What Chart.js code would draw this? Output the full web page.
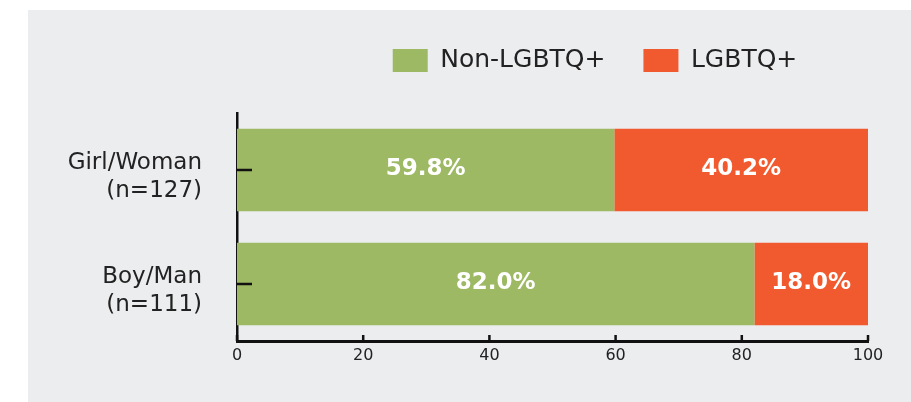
<!DOCTYPE html>
<html>
<head>
<meta charset="utf-8">
<script src="https://cdn.jsdelivr.net/npm/chart.js@4.4.1/dist/chart.umd.min.js"></script>
<style>
  html, body { margin: 0; padding: 0; background: #fff; }
  .panel { position: absolute; left: 28px; top: 10px; width: 883px; height: 392px; background: #ecedef; }
</style>
</head>
<body>
<div class="panel"><canvas id="chart" width="883" height="392"></canvas></div>
<script>
const categories = [['Girl/Woman', '(n=127)'], ['Boy/Man', '(n=111)']];
const seriesNames = ['Non-LGBTQ+', 'LGBTQ+'];
const nonLgbtq = [59.8, 82.0];
const lgbtq = [40.2, 18.0];
const xTicks = [0, 20, 40, 60, 80, 100];

document.addEventListener('DOMContentLoaded', function () {
    const green = '#9db964';
    const orange = '#f15a2e';
    const ink = '#222222';
    const family = '"DejaVu Sans", sans-serif';

    // legend sits a bit right of centre, with space under it
    const legendPlacement = {
        id: 'legendPlacement',
        beforeInit(chart) {
            const fit = chart.legend.fit;
            chart.legend.fit = function () {
                fit.call(this);
                this.height += 30;
            };
        },
        afterLayout(chart) {
            chart.legend.left += 147;
            chart.legend.right += 147;
        }
    };

    // inward tick marks + values inside the bars
    const marksAndValues = {
        id: 'marksAndValues',
        afterDatasetsDraw(chart) {
            const { ctx, chartArea, scales: { x, y } } = chart;
            ctx.save();
            ctx.strokeStyle = '#111';
            ctx.lineWidth = 2.5;
            ctx.beginPath();
            xTicks.forEach(v => {
                const px = x.getPixelForValue(v);
                ctx.moveTo(px, chartArea.bottom);
                ctx.lineTo(px, chartArea.bottom - 6);
            });
            categories.forEach((c, i) => {
                const py = y.getPixelForValue(i);
                ctx.moveTo(chartArea.left, py);
                ctx.lineTo(chartArea.left + 15, py);
            });
            ctx.stroke();

            ctx.fillStyle = '#fff';
            ctx.font = 'bold 23px ' + family;
            ctx.textAlign = 'center';
            ctx.textBaseline = 'middle';
            chart.data.datasets.forEach((ds, di) => {
                chart.getDatasetMeta(di).data.forEach((bar, i) => {
                    const p = bar.getProps(['x', 'y', 'base'], true);
                    ctx.fillText(ds.data[i].toFixed(1) + '%', (p.x + p.base) / 2, p.y - 1);
                });
            });
            ctx.restore();
        }
    };

    new Chart(document.getElementById('chart'), {
        type: 'bar',
        data: {
            labels: categories,
            datasets: [{
                label: seriesNames[0],
                data: nonLgbtq,
                backgroundColor: green,
                borderWidth: 0
            }, {
                label: seriesNames[1],
                data: lgbtq,
                backgroundColor: orange,
                borderWidth: 0
            }]
        },
        options: {
            indexAxis: 'y',
            responsive: false,
            animation: false,
            datasets: {
                bar: { categoryPercentage: 1, barPercentage: 0.725 }
            },
            layout: { padding: { top: 0, left: 0, right: 43, bottom: 0 } },
            plugins: {
                legend: {
                    position: 'top',
                    labels: {
                        boxWidth: 35,
                        boxHeight: 23,
                        padding: 38,
                        color: ink,
                        font: { size: 25, family: family }
                    }
                },
                tooltip: { enabled: false }
            },
            scales: {
                x: {
                    stacked: true,
                    min: 0,
                    max: 100,
                    afterBuildTicks: s => { s.ticks = xTicks.map(v => ({ value: v })); },
                    afterFit: s => { s.height = 61; },
                    grid: { display: false, drawTicks: false },
                    border: { display: true, color: '#111', width: 3 },
                    ticks: { color: ink, padding: 5, font: { size: 16, family: family } }
                },
                y: {
                    stacked: true,
                    afterFit: s => {
                        s.width = 209;
                        s.paddingTop = 0;
                        s.paddingBottom = 0;
                    },
                    grid: { display: false, drawTicks: false },
                    border: { display: true, color: '#111', width: 2.5 },
                    ticks: {
                        color: ink,
                        padding: 35,
                        labelOffset: 7,
                        font: { size: 23, family: family, lineHeight: 1.25 }
                    }
                }
            }
        },
        plugins: [legendPlacement, marksAndValues]
    });
});
</script>
</body>
</html>
